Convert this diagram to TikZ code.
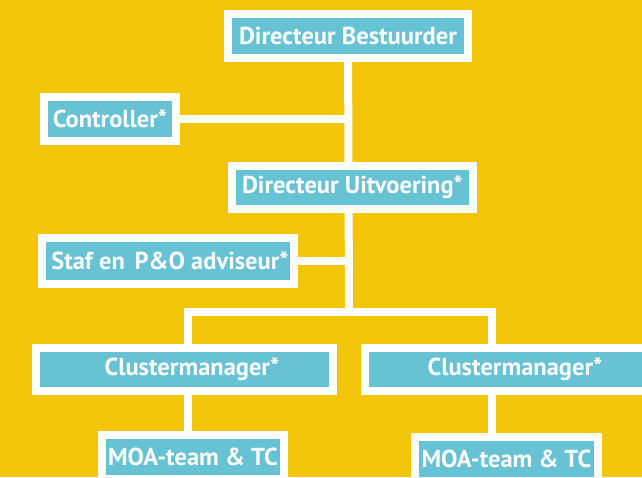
\documentclass[tikz,border=0pt]{standalone}
\usepackage{fontspec}
\setmainfont{PT Sans}
\usetikzlibrary{backgrounds}
\definecolor{bgyellow}{RGB}{243,197,8}
\definecolor{boxteal}{RGB}{103,194,211}
\begin{document}
\begin{tikzpicture}[x=1pt,y=-1pt,
  orgbox/.style={draw=white,fill=boxteal,line width=8pt,text=white,
    font=\fontsize{24.5}{28}\selectfont\bfseries,inner sep=0pt,
    minimum height=44pt,anchor=center},
  conn/.style={draw=white,line width=8pt}]
\begin{scope}[on background layer]
  \fill[bgyellow] (0,0) rectangle (642,477);
\end{scope}
\useasboundingbox (0,0) rectangle (642,477);

\node[orgbox,minimum width=240pt] (db) at (348,36) {Directeur Bestuurder};
\node[orgbox,minimum width=132pt] (ctrl) at (110,119) {Controller*};
\node[orgbox,minimum width=241pt,minimum height=43pt] (du) at (352.5,187.5) {Directeur Uitvoering*};
\node[orgbox,minimum width=252pt,minimum height=46pt] (staf) at (168,261) {\hspace*{4pt}Staf en\hspace{0.4em}P\&O adviseur*};
\node[orgbox,minimum width=297pt,minimum height=43pt] (cmL) at (184.5,369.5) {\hspace*{15pt}Clustermanager*};
\node[orgbox,minimum width=300pt,minimum height=43pt] (cmR) at (515,369.5) {Clustermanager*};
\node[orgbox,minimum width=182pt] (moaL) at (193,457) {MOA-team \& TC};
\node[orgbox,minimum width=183pt] (moaR) at (506.5,459) {MOA-team \& TC};

\coordinate (bar) at (349,312);
\coordinate (jl) at (188,312);
\coordinate (jr) at (492,312);

\begin{scope}[on background layer]
  \draw[conn] (db) -- (bar);
  \draw[conn] (ctrl) -- (ctrl -| bar);
  \draw[conn] (staf) -- (staf -| bar);
  \draw[conn] (jl |- cmL.north) -- (jl) -- (jr) -- (jr |- cmR.north);
  \draw[conn] (jl |- cmL.south) -- (jl |- moaL.north);
  \draw[conn] (jr |- cmR.south) -- (jr |- moaR.north);
\end{scope}
\end{tikzpicture}
\end{document}
